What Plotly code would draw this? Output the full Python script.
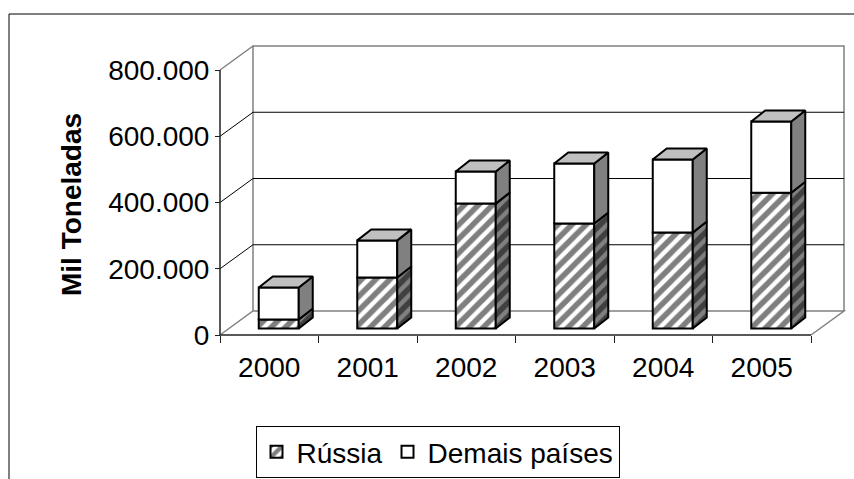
import plotly.graph_objects as go

# ---------------- data ----------------
YEARS = ["2000", "2001", "2002", "2003", "2004", "2005"]
RUSSIA = [27000, 154000, 377000, 317000, 290000, 410000]
DEMAIS = [97000, 112000, 97000, 181000, 220000, 215000]
Y_TICKS = [0, 200000, 400000, 600000, 800000]
SERIES_NAMES = ["Rússia", "Demais países"]
Y_TITLE = "Mil Toneladas"

# ---------------- geometry (pixels) ----------------
W, H = 854, 479
PL, PR, PT, PB = 205, 850, 40, 345          # plot area
X0PX, Y0PX = 220, 335                        # front origin of the axes
CAT_PX = 98.5                                # px per category
VAL_PX = 265 / 800000                        # px per unit


def xd(px):
    return (px - X0PX) / CAT_PX - 0.5


def yd(py):
    return (Y0PX - py) / VAL_PX


x_range = [xd(PL), xd(PR)]
y_range = [yd(PB), yd(PT)]

DEPTH_X = 33 / CAT_PX
DEPTH_Y = 24 / VAL_PX
BAR_OFF_X = 9.5 / CAT_PX
BAR_OFF_Y = 6.5 / VAL_PX
BAR_W = 40 / CAT_PX
BAR_DX = 14 / CAT_PX
BAR_DY = 11 / VAL_PX

FONT = "Liberation Sans, Arial, sans-serif"
GRAY = "#808080"
SIDE = "#808080"
TOP = "#C0C0C0"
OUT_W = 2

n = len(YEARS)
xs = [i + BAR_OFF_X for i in range(n)]
left, right = -0.5, n - 0.5
ytop = Y_TICKS[-1]

fig = go.Figure()

# front faces
base_r = [BAR_OFF_Y] * n
base_d = [BAR_OFF_Y + r for r in RUSSIA]
fig.add_trace(go.Bar(
    x=xs, y=RUSSIA, base=base_r, width=BAR_W, name=SERIES_NAMES[0],
    marker=dict(color="white", line=dict(color="black", width=OUT_W),
                pattern=dict(shape="/", fgcolor="black", bgcolor="white",
                             size=10, solidity=0.55)),
    hoverinfo="skip"))
fig.add_trace(go.Bar(
    x=xs, y=DEMAIS, base=base_d, width=BAR_W, name=SERIES_NAMES[1],
    marker=dict(color="white", line=dict(color="black", width=OUT_W)),
    hoverinfo="skip"))


def side_poly(i, b, t):
    xr = xs[i] + BAR_W / 2
    return ([xr, xr + BAR_DX, xr + BAR_DX, xr, xr, None],
            [b, b + BAR_DY, t + BAR_DY, t, b, None])


def top_poly(i, T):
    xl = xs[i] - BAR_W / 2
    xr = xs[i] + BAR_W / 2
    return ([xl, xr, xr + BAR_DX, xl + BAR_DX, xl, None],
            [T, T, T + BAR_DY, T + BAR_DY, T, None])


sx_r, sy_r, sx_d, sy_d, tx, ty = [], [], [], [], [], []
for i in range(n):
    b0 = BAR_OFF_Y
    b1 = BAR_OFF_Y + RUSSIA[i]
    b2 = b1 + DEMAIS[i]
    px_, py_ = side_poly(i, b0, b1)
    sx_r += px_
    sy_r += py_
    px_, py_ = side_poly(i, b1, b2)
    sx_d += px_
    sy_d += py_
    px_, py_ = top_poly(i, b2)
    tx += px_
    ty += py_

fig.add_trace(go.Scatter(
    x=sx_r, y=sy_r, mode="lines", fill="toself", fillcolor=SIDE,
    fillpattern=dict(shape="/", fgcolor="black", bgcolor=SIDE, size=10, solidity=0.55),
    line=dict(color="black", width=OUT_W), showlegend=False, hoverinfo="skip"))
fig.add_trace(go.Scatter(
    x=sx_d, y=sy_d, mode="lines", fill="toself", fillcolor=SIDE,
    line=dict(color="black", width=OUT_W), showlegend=False, hoverinfo="skip"))
fig.add_trace(go.Scatter(
    x=tx, y=ty, mode="lines", fill="toself", fillcolor=TOP,
    line=dict(color="black", width=OUT_W), showlegend=False, hoverinfo="skip"))

# ---------------- walls / gridlines (below traces) ----------------
shapes = []


def path(points):
    return "M" + " L".join(f"{x},{y}" for x, y in points)


shapes.append(dict(type="path", xref="x", yref="y", layer="below",
                   path=path([(left + DEPTH_X, DEPTH_Y), (left + DEPTH_X, ytop + DEPTH_Y),
                              (right + DEPTH_X, ytop + DEPTH_Y), (right + DEPTH_X, DEPTH_Y)]),
                   line=dict(color=GRAY, width=1.5)))
shapes.append(dict(type="path", xref="x", yref="y", layer="below",
                   path=path([(left, 0), (left + DEPTH_X, DEPTH_Y),
                              (right + DEPTH_X, DEPTH_Y), (right, 0)]),
                   line=dict(color=GRAY, width=1.5)))
shapes.append(dict(type="path", xref="x", yref="y", layer="below",
                   path=path([(left, ytop), (left + DEPTH_X, ytop + DEPTH_Y)]),
                   line=dict(color=GRAY, width=1.5)))
for g in Y_TICKS[1:-1]:
    shapes.append(dict(type="path", xref="x", yref="y", layer="below",
                       path=path([(left, g), (left + DEPTH_X, g + DEPTH_Y),
                                  (right + DEPTH_X, g + DEPTH_Y)]),
                       line=dict(color="black", width=1)))
shapes.append(dict(type="line", xref="x", yref="y", layer="below",
                   x0=left, y0=0, x1=left, y1=ytop, line=dict(color="#202020", width=1.5)))
shapes.append(dict(type="line", xref="x", yref="y", layer="below",
                   x0=left, y0=0, x1=right, y1=0, line=dict(color="#202020", width=1.5)))


def px2paper_x(px):
    return (px - PL) / (PR - PL)


def px2paper_y(py):
    return (PB - py) / (PB - PT)


shapes.append(dict(type="rect", xref="paper", yref="paper", layer="above",
                   x0=px2paper_x(9), y0=px2paper_y(500), x1=px2paper_x(880), y1=px2paper_y(14),
                   line=dict(color="black", width=1)))

fig.update_layout(
    width=W, height=H, autosize=False,
    margin=dict(l=PL, r=W - PR, t=PT, b=H - PB, pad=0, autoexpand=False),
    paper_bgcolor="white", plot_bgcolor="white",
    barmode="overlay", separators=",.",
    font=dict(family=FONT, color="black", size=28),
    shapes=shapes,
    xaxis=dict(range=x_range, showgrid=False, zeroline=False, showline=False,
               anchor="free", position=px2paper_y(Y0PX), automargin=False,
               tickmode="array", tickvals=list(range(n)), ticktext=YEARS,
               ticks="outside", ticklen=7, tickcolor="rgba(0,0,0,0)",
               tickfont=dict(size=28, family=FONT, color="black"),
               minor=dict(tickmode="array", tickvals=[i - 0.5 for i in range(n + 1)],
                          ticks="outside", ticklen=7, tickcolor="#202020", tickwidth=1,
                          showgrid=False),
               fixedrange=True),
    yaxis=dict(range=y_range, showgrid=False, zeroline=False, showline=False,
               anchor="free", position=px2paper_x(X0PX), automargin=False,
               tickmode="array", tickvals=Y_TICKS, tickformat=",d",
               ticks="outside", ticklen=5, tickcolor="#202020", tickwidth=1,
               tickfont=dict(size=28, family=FONT, color="black"),
               fixedrange=True),
    legend=dict(orientation="h", xref="container", yref="container",
                x=437.5 / W, xanchor="center", y=1 - 426 / H, yanchor="top",
                bordercolor="black", borderwidth=1, bgcolor="white",
                font=dict(size=28, family=FONT, color="black"),
                traceorder="normal", itemwidth=30),
    annotations=[dict(text="<b>" + Y_TITLE + "</b>", xref="paper", yref="paper",
                      x=px2paper_x(72), y=px2paper_y(205), textangle=-90,
                      showarrow=False, xanchor="center", yanchor="middle",
                      font=dict(size=28, family=FONT, color="black"))],
)

fig.write_html("out.html", config={"displayModeBar": False},
               post_script="document.body.style.margin='0';document.body.style.padding='0';")
